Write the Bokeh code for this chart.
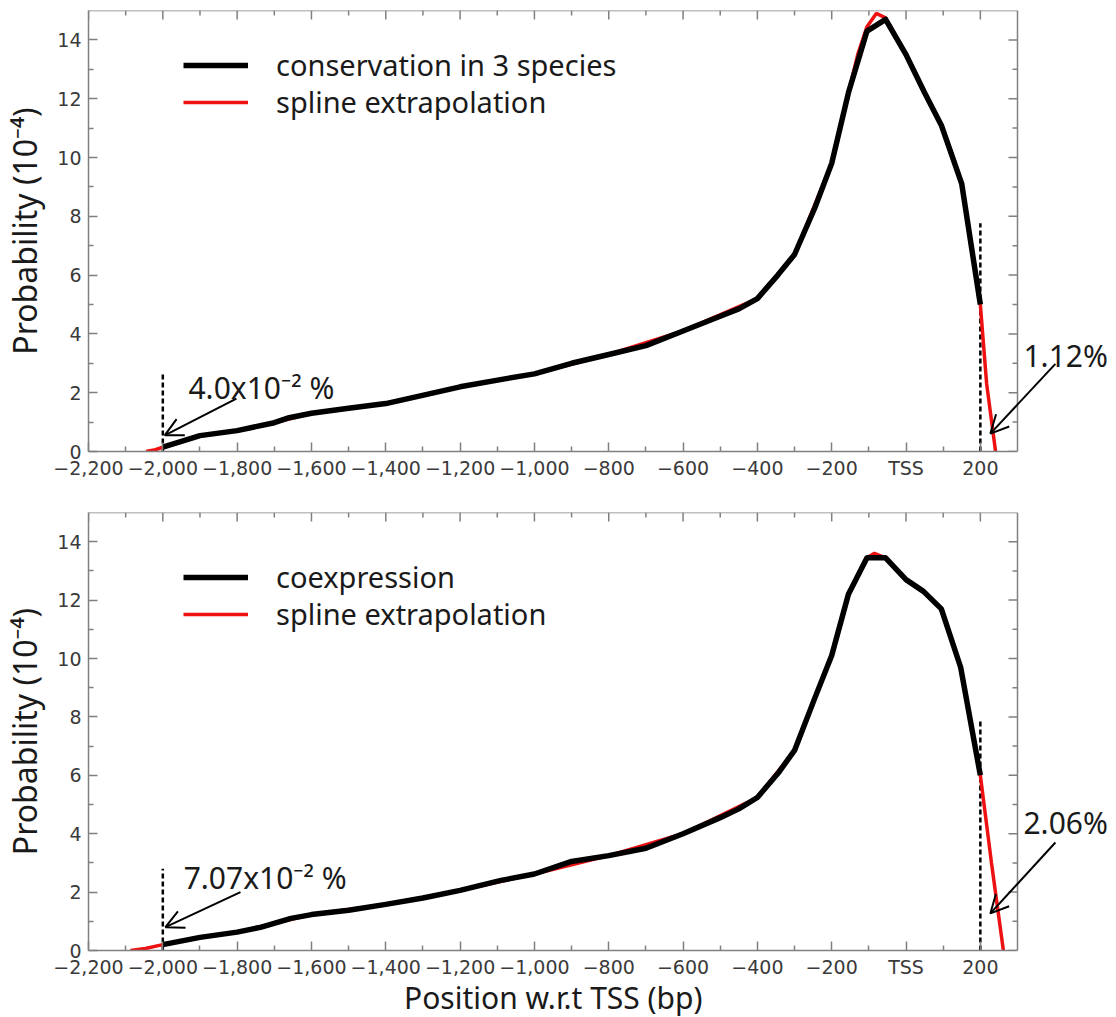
from bokeh.plotting import figure
from bokeh.layouts import column
from bokeh.models import (Range1d, FixedTicker, Legend, LegendItem,
                          Label, Arrow, OpenHead, Title)
from bokeh.embed import file_html
from bokeh.resources import INLINE

# ---------------- data ----------------
x_ticks = [-2200, -2000, -1800, -1600, -1400, -1200, -1000, -800, -600, -400, -200, 0, 200]
x_tick_labels = ["\u22122,200", "\u22122,000", "\u22121,800", "\u22121,600", "\u22121,400",
                 "\u22121,200", "\u22121,000", "\u2212800", "\u2212600", "\u2212400",
                 "\u2212200", "TSS", "200"]
x_minor_ticks = [-2100, -1900, -1700, -1500, -1300, -1100, -900, -700, -500, -300,
                 -100, 100]
y_ticks = [0, 2, 4, 6, 8, 10, 12, 14]
y_tick_labels = ["0", "2", "4", "6", "8", "10", "12", "14"]
y_minor_ticks = [1, 3, 5, 7, 9, 11, 13]
x_axis_start, x_axis_end = -2200, 300
y_axis_start, y_axis_end = 0, 15

# top panel: conservation in 3 species
cons_x = [-2000, -1900, -1800, -1700, -1660, -1600, -1500, -1400, -1340, -1200, -1080,
          -1000, -900, -800, -700, -600, -500, -450, -400, -345, -300, -245, -200,
          -155, -105, -55, 0, 50, 95, 150, 200]
cons_y = [0.15, 0.54, 0.71, 0.98, 1.15, 1.3, 1.47, 1.63, 1.8, 2.2, 2.47,
          2.64, 3.0, 3.3, 3.6, 4.1, 4.6, 4.85, 5.2, 6.0, 6.7, 8.3, 9.8,
          12.2, 14.3, 14.7, 13.5, 12.2, 11.1, 9.1, 5.0]
cons_spline_x = [-2045, -2020, -2000, -1900, -1800, -1700, -1600, -1500, -1400, -1200,
                 -1000, -800, -600, -400, -300, -200, -155, -130, -105, -80, -55, -30,
                 0, 50, 95, 130, 150, 200, 217, 241]
cons_spline_y = [0.0, 0.06, 0.15, 0.54, 0.71, 0.98, 1.3, 1.47, 1.63, 2.2,
                 2.64, 3.3, 4.1, 5.2, 6.7, 9.8, 12.2, 13.5, 14.45, 14.9, 14.75, 14.2,
                 13.5, 12.2, 11.1, 9.9, 9.1, 5.0, 2.3, 0.0]
cons_cut_x = [-2000, 200]
cons_cut_top = [2.68, 7.76]
cons_tail_text = ["4.0x10\u207b\u00b2 %", "1.12%"]

# bottom panel: coexpression
coex_x = [-2000, -1900, -1800, -1735, -1655, -1600, -1500, -1400, -1300, -1200, -1090,
          -1000, -900, -800, -700, -600, -500, -450, -400, -345, -300, -245, -200,
          -155, -105, -55, 0, 47, 95, 147, 200]
coex_y = [0.2, 0.45, 0.63, 0.8, 1.1, 1.23, 1.38, 1.58, 1.8, 2.06, 2.4,
          2.62, 3.05, 3.25, 3.5, 4.0, 4.55, 4.85, 5.24, 6.06, 6.85, 8.66, 10.1,
          12.2, 13.45, 13.45, 12.7, 12.3, 11.7, 9.7, 6.0]
coex_spline_x = [-2087, -2047, -2000, -1900, -1800, -1600, -1400, -1200, -1000, -800,
                 -600, -400, -300, -200, -155, -105, -85, -55, 0, 47, 95, 147, 200,
                 230, 262]
coex_spline_y = [0.0, 0.07, 0.2, 0.45, 0.63, 1.23, 1.58, 2.06, 2.62, 3.25,
                 4.0, 5.24, 6.85, 10.1, 12.2, 13.45, 13.6, 13.45, 12.7, 12.3, 11.7, 9.7, 6.0,
                 3.0, 0.0]
coex_cut_x = [-2000, 200]
coex_cut_top = [2.8, 7.9]
coex_tail_text = ["7.07x10\u207b\u00b2 %", "2.06%"]

GRAY = "#808080"
TICK_FONT = "DejaVu Sans"
TEXT_FONT = "Noto Sans"

AXIS_FRAME_W = 929          # pixels between x = -2200 and x = 300
FRAME_W = 1020              # frame widened to the right to hold the annotations
VIEW_END = x_axis_start + (x_axis_end - x_axis_start) * FRAME_W / AXIS_FRAME_W
MAJ_LEN, MIN_LEN = 9, 5
LEGEND_ITEM_H = 38


def make_panel(xs, ys, sx, sy, cut_x, cut_top, tail_text, legend_label,
               fh, mt, mb, legend_centers, left_arrow, right_arrow,
               left_txt, right_txt, show_xlabel):
    p = figure(frame_width=FRAME_W, frame_height=fh,
               x_range=Range1d(x_axis_start, VIEW_END),
               y_range=Range1d(y_axis_start, y_axis_end),
               output_backend="svg", toolbar_location=None,
               min_border_left=82, min_border_right=2,
               min_border_top=mt, min_border_bottom=mb,
               background_fill_color="white", border_fill_color="white")
    p.grid.visible = False
    p.outline_line_color = None

    xa = p.xaxis[0]
    xa.ticker = FixedTicker(ticks=x_ticks, minor_ticks=x_minor_ticks)
    xa.major_label_overrides = {t: l for t, l in zip(x_ticks, x_tick_labels)}
    xa.bounds = (x_axis_start, x_axis_end)
    ya = p.yaxis[0]
    ya.ticker = FixedTicker(ticks=y_ticks, minor_ticks=y_minor_ticks)
    ya.major_label_overrides = {t: l for t, l in zip(y_ticks, y_tick_labels)}
    for ax in (xa, ya):
        ax.major_tick_in = MAJ_LEN
        ax.major_tick_out = 0
        ax.minor_tick_in = MIN_LEN
        ax.minor_tick_out = 0
        ax.axis_line_color = GRAY
        ax.axis_line_width = 1.5
        ax.major_tick_line_color = GRAY
        ax.minor_tick_line_color = GRAY
        ax.major_tick_line_width = 1.5
        ax.minor_tick_line_width = 1.5
        ax.major_label_text_font = TICK_FONT
        ax.major_label_text_font_size = "19px"
        ax.major_label_text_color = "#3a3a3a"
        ax.axis_label_text_font = TEXT_FONT
        ax.axis_label_text_font_style = "normal"
        ax.axis_label_text_color = "#1a1a1a"
    xa.major_label_standoff = 5
    ya.major_label_standoff = 7
    ya.axis_label = "Probability (10\u207b\u2074)"
    ya.axis_label_text_font_size = "32px"
    ya.axis_label_standoff = 8
    if show_xlabel:
        # centred under the -2200..300 axis, not under the widened frame
        p.add_layout(Title(text="Position w.r.t TSS (bp)", align="left",
                           offset=(AXIS_FRAME_W - 298) / 2, vertical_align="top",
                           text_font=TEXT_FONT, text_font_size="30px",
                           text_font_style="normal", text_color="#1a1a1a",
                           standoff=-8), "below")

    # mirrored frame (top and right) with inward ticks
    ux = (VIEW_END - x_axis_start) / FRAME_W       # data units per pixel, x
    uy = (y_axis_end - y_axis_start) / fh          # data units per pixel, y
    p.segment(x0=[x_axis_start, x_axis_end], y0=[y_axis_end, y_axis_start],
              x1=[x_axis_end, x_axis_end], y1=[y_axis_end, y_axis_end],
              line_color=GRAY, line_width=1.5)
    p.segment(x0=x_ticks, y0=[y_axis_end] * len(x_ticks),
              x1=x_ticks, y1=[y_axis_end - MAJ_LEN * uy] * len(x_ticks),
              line_color=GRAY, line_width=1.5)
    p.segment(x0=x_minor_ticks, y0=[y_axis_end] * len(x_minor_ticks),
              x1=x_minor_ticks, y1=[y_axis_end - MIN_LEN * uy] * len(x_minor_ticks),
              line_color=GRAY, line_width=1.5)
    p.segment(x0=[x_axis_end] * len(y_ticks), y0=y_ticks,
              x1=[x_axis_end - MAJ_LEN * ux] * len(y_ticks), y1=y_ticks,
              line_color=GRAY, line_width=1.5)
    p.segment(x0=[x_axis_end] * len(y_minor_ticks), y0=y_minor_ticks,
              x1=[x_axis_end - MIN_LEN * ux] * len(y_minor_ticks), y1=y_minor_ticks,
              line_color=GRAY, line_width=1.5)

    # dashed cut-off lines
    p.segment(x0=cut_x, y0=[0, 0], x1=cut_x, y1=cut_top, line_color="black",
              line_width=2.5, line_dash="5 3")

    red = p.line(sx, sy, line_color="#ee1111", line_width=3.5)
    blk = p.line(xs, ys, line_color="black", line_width=5.5, line_join="round")

    # one legend per entry so that the vertical gap can be matched
    for lab, rend, cy in zip([legend_label, "spline extrapolation"], [blk, red],
                             legend_centers):
        lg = Legend(items=[LegendItem(label=lab, renderers=[rend])],
                    location=(95, fh - cy - LEGEND_ITEM_H / 2),
                    border_line_color=None, background_fill_alpha=0,
                    label_text_font=TEXT_FONT, label_text_font_size="29px",
                    label_text_color="#1a1a1a", glyph_width=65, glyph_height=30,
                    label_height=30, label_standoff=28, padding=0, margin=0)
        p.add_layout(lg)

    # arrows
    for (x0, y0, x1, y1) in (left_arrow, right_arrow):
        p.add_layout(Arrow(x_start=x0, y_start=y0, x_end=x1, y_end=y1,
                           line_width=2, line_color="black",
                           end=OpenHead(size=18, line_width=2, line_color="black")))
    # tail percentages
    for txt, (lx, ly) in zip(tail_text, (left_txt, right_txt)):
        p.add_layout(Label(x=lx, y=ly, text=txt, text_font=TEXT_FONT,
                           text_font_size="30px", text_color="#1a1a1a",
                           text_baseline="alphabetic", text_align="left"))
    return p


top = make_panel(cons_x, cons_y, cons_spline_x, cons_spline_y, cons_cut_x, cons_cut_top,
                 cons_tail_text, "conservation in 3 species",
                 fh=441, mt=10, mb=49, legend_centers=(55, 92),
                 left_arrow=(-1802, 1.8, -1995, 0.55),
                 right_arrow=(402, 2.98, 227, 0.61),
                 left_txt=(-1931, 2.18), right_txt=(316, 3.25),
                 show_xlabel=False)
bot = make_panel(coex_x, coex_y, coex_spline_x, coex_spline_y, coex_cut_x, coex_cut_top,
                 coex_tail_text, "coexpression",
                 fh=438, mt=12, mb=66, legend_centers=(65, 102),
                 left_arrow=(-1791, 2.0, -1993, 0.8),
                 right_arrow=(402, 3.7, 227, 1.27),
                 left_txt=(-1944, 2.5), right_txt=(316, 4.38),
                 show_xlabel=True)

layout = column(top, bot)
open("out.html", "w").write(file_html(layout, INLINE))
